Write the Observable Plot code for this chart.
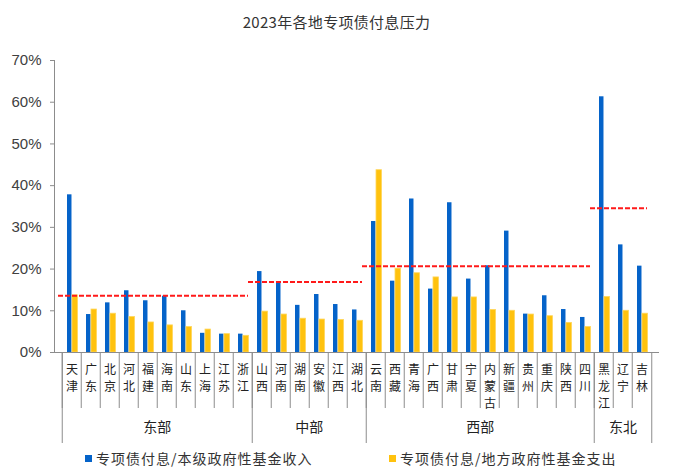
<!DOCTYPE html>
<html>
<head>
<meta charset="utf-8">
<script src="https://cdn.jsdelivr.net/npm/d3@7"></script>
<script src="https://cdn.jsdelivr.net/npm/@observablehq/plot@0.6"></script>
<style>
  body { margin: 0; background: #fff; }
  #chart { position: relative; width: 673px; height: 468px; overflow: hidden; font-family: "Noto Sans CJK SC", sans-serif; }
  #chart svg { position: absolute; left: 0; top: 0; }
  #title { position: absolute; top: 11px; left: 0; width: 673px; text-align: center; font-size: 15px; color: #333; letter-spacing: 0.3px; }
  .legend { position: absolute; top: 449px; font-size: 14px; line-height: 18px; color: #333; display: flex; align-items: center; letter-spacing: 1px; white-space: nowrap; }
  .legend i { display: inline-block; width: 7px; height: 7px; margin-right: 4px; }
</style>
</head>
<body>
<div id="chart">
  <div id="title">2023年各地专项债付息压力</div>
</div>
<script>
// Regions in display order, grouped by economic zone
const regions = ["天津","广东","北京","河北","福建","海南","山东","上海","江苏","浙江",
                 "山西","河南","湖南","安徽","江西","湖北",
                 "云南","西藏","青海","广西","甘肃","宁夏","内蒙古","新疆","贵州","重庆","陕西","四川",
                 "黑龙江","辽宁","吉林"];
const groupNames = ["东部", "中部", "西部", "东北"];
const groupSizes = [10, 6, 12, 3];

// 专项债付息 / 本级政府性基金收入 (%)
const ratioToOwnRevenue = [37.8, 9.1, 11.9, 14.8, 12.4, 13.5, 10.0, 4.6, 4.4, 4.4,
                           19.4, 16.8, 11.3, 13.9, 11.5, 10.2,
                           31.4, 17.1, 36.8, 15.2, 35.9, 17.6, 20.8, 29.1, 9.2, 13.6, 10.3, 8.4,
                           61.3, 25.8, 20.7];
// 专项债付息 / 地方政府性基金支出 (%)
const ratioToLocalSpending = [13.7, 10.3, 9.3, 8.5, 7.2, 6.5, 6.1, 5.5, 4.4, 4.0,
                              9.8, 9.1, 8.1, 7.9, 7.8, 7.6,
                              43.7, 20.1, 19.0, 18.0, 13.2, 13.2, 10.2, 10.0, 9.1, 8.7, 7.1, 6.1,
                              13.3, 10.0, 9.3];
// Zone averages shown as dashed reference lines (%)
const groupAverages = [13.6, 16.9, 20.7, 34.6];

const yTicks = [0, 10, 20, 30, 40, 50, 60, 70];

const seriesNames = ["专项债付息/本级政府性基金收入", "专项债付息/地方政府性基金支出"];
const seriesColors = ["#0563c9", "#ffc20e"];

// ---- derived tables ----
const rows = regions.map((r, i) => ({region: r, own: ratioToOwnRevenue[i], spend: ratioToLocalSpending[i]}));
let start = 0;
const groups = groupNames.map((name, g) => {
  const members = regions.slice(start, start + groupSizes[g]);
  start += groupSizes[g];
  const n = members.length;
  return {name, first: members[0], last: members[n - 1], avg: groupAverages[g],
          mid: members[Math.floor(n / 2)], even: n % 2 === 0};
});

const W = 673, H = 468;
const M = {top: 60, right: 14, bottom: 116, left: 54};
const bw = (W - M.left - M.right) / regions.length;
const axisGrey = "#8c8c8c";
const cjk = "'Noto Sans CJK SC'";

const chart = Plot.plot({
  width: W,
  height: H,
  marginTop: M.top,
  marginRight: M.right,
  marginBottom: M.bottom,
  marginLeft: M.left,
  style: {fontFamily: "'Liberation Sans', Arial, sans-serif", fontSize: "15px", color: "#404040", background: "transparent"},
  x: {domain: regions, padding: 0},
  y: {domain: [0, 70]},
  marks: [
    Plot.barY(rows, {x: "region", y: "own", fill: seriesColors[0], insetLeft: 5, insetRight: bw - 10}),
    Plot.barY(rows, {x: "region", y: "spend", fill: seriesColors[1], stroke: "#ffd65a", strokeWidth: 0.8,
                     insetLeft: 10, insetRight: bw - 16}),
    // zone averages
    Plot.ruleY(groups, {x1: "first", x2: "last", y: "avg", dx: -4, stroke: "#ff1a1a", strokeWidth: 2, strokeDasharray: "5,2"}),
    // y axis
    Plot.frame({anchor: "left", stroke: axisGrey}),
    Plot.axisY({ticks: yTicks, tickFormat: d => d + "%", tickSize: 4, tickPadding: 9, stroke: axisGrey,
                fill: "#404040", fontSize: 15, label: null}),
    // x baseline
    Plot.ruleY([0], {stroke: axisGrey}),
    // region separators
    Plot.axisX({ticks: regions, tickSize: 56, tickFormat: () => "", dx: -bw / 2, stroke: axisGrey, label: null}),
    // zone separators
    Plot.axisX({ticks: groups.map(g => g.first), tickSize: 91, tickFormat: () => "", dx: -bw / 2, stroke: axisGrey, label: null}),
    Plot.axisX({ticks: [regions[regions.length - 1]], tickSize: 91, tickFormat: () => "", dx: bw / 2, stroke: axisGrey, label: null}),
    // region names, written vertically
    Plot.text(regions, {x: d => d, text: d => [...d].join("\n"), frameAnchor: "bottom", lineAnchor: "top",
                        dy: 10, fontSize: 12, lineHeight: 1.4, fill: "#222", fontFamily: cjk}),
    // zone names
    Plot.text(groups.filter(g => g.even), {x: "mid", text: "name", frameAnchor: "bottom", dy: 79, dx: -bw / 2,
                        fontSize: 14, fill: "#222", fontFamily: cjk}),
    Plot.text(groups.filter(g => !g.even), {x: "mid", text: "name", frameAnchor: "bottom", dy: 79,
                        fontSize: 14, fill: "#222", fontFamily: cjk})
  ]
});

const root = document.getElementById("chart");
root.prepend(chart);

// legend below the plot
const legendX = [85, 389];
seriesNames.forEach((name, i) => {
  const item = document.createElement("div");
  item.className = "legend";
  item.style.left = legendX[i] + "px";
  const sw = document.createElement("i");
  sw.style.background = seriesColors[i];
  item.appendChild(sw);
  item.appendChild(document.createTextNode(name));
  root.appendChild(item);
});
</script>
</body>
</html>
